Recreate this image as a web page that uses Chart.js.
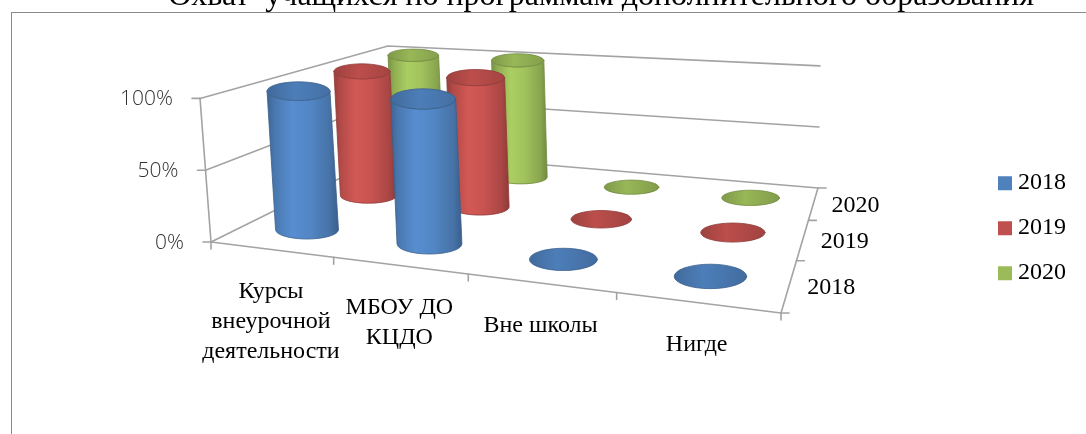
<!DOCTYPE html>
<html>
<head>
<meta charset="utf-8">
<script src="https://cdn.jsdelivr.net/npm/chart.js"></script>
<style>
    html, body { margin: 0; padding: 0; background: #fff; }
    #wrap { position: relative; width: 1086px; height: 434px; overflow: hidden; }
    #frame { position: absolute; left: 11px; top: 12px; width: 1100px; height: 440px;
             border-left: 1px solid #8a8a8a; border-top: 1px solid #8a8a8a; }
    #chart { position: absolute; left: 0; top: 0; }
</style>
</head>
<body>
<div id="wrap">
    <div id="frame"></div>
    <canvas id="chart" width="1086" height="434"></canvas>
</div>
<script>
const chartTitle = "Охват  учащихся по программам дополнительного образования";
const categories = [["Курсы", "внеурочной", "деятельности"], ["МБОУ ДО", "КЦДО"], "Вне школы", "Нигде"];
const seriesYears = ["2018", "2019", "2020"];
const values2018 = [100, 100, 0, 0];
const values2019 = [100, 100, 0, 0];
const values2020 = [100, 100, 0, 0];
const seriesColors = ["#4F81BD", "#C0504D", "#9BBB59"];

// frame of the 3d box, in canvas pixels: front-left, front-right, back-right, back-left
const floorCorners = [[211, 242], [781, 313], [818, 188], [393, 152]];
const wallHeight = 144;          // 100% at the front-left corner
const vanishPoint = [711, 6784]; // where the verticals meet
const cylinderRadius = 0.232;    // share of a cell

function makeHomography(p0, p1, p2, p3) {
    const [x0, y0] = p0, [x1, y1] = p1, [x2, y2] = p2, [x3, y3] = p3;
    const dx1 = x1 - x2, dx2 = x3 - x2, dx3 = x0 - x1 + x2 - x3;
    const dy1 = y1 - y2, dy2 = y3 - y2, dy3 = y0 - y1 + y2 - y3;
    const den = dx1 * dy2 - dx2 * dy1;
    const g = (dx3 * dy2 - dx2 * dy3) / den;
    const h = (dx1 * dy3 - dx3 * dy1) / den;
    const a = x1 - x0 + g * x1, b = x3 - x0 + h * x3;
    const d = y1 - y0 + g * y1, e = y3 - y0 + h * y3;
    return (u, v) => {
        const w = g * u + h * v + 1;
        return { x: (a * u + b * v + x0) / w, y: (d * u + e * v + y0) / w, w };
    };
}

const floor = makeHomography(...floorCorners);

function lift(p, t) {
    const dx = p.x - vanishPoint[0], dy = p.y - vanishPoint[1];
    const s = (wallHeight / p.w) * t / Math.hypot(dx, dy);
    return { x: p.x + dx * s, y: p.y + dy * s };
}

const point3d = (u, v, t) => lift(floor(u, v), t);

function shade(hex, k) {
    const n = parseInt(hex.slice(1), 16);
    const c = [n >> 16, (n >> 8) & 255, n & 255].map(v => Math.max(0, Math.min(255, Math.round(v * k))));
    return "rgb(" + c.join(",") + ")";
}

function drawCylinder(ctx, uc, vc, ru, rv, t, color) {
    // outline of the base circle on the floor, then an upright ellipse of the same size
    let minX = Infinity, maxX = -Infinity, minY = Infinity, maxY = -Infinity;
    for (let k = 0; k < 72; k++) {
        const a = (k / 72) * Math.PI * 2;
        const p = floor(uc + ru * Math.cos(a), vc + rv * Math.sin(a));
        minX = Math.min(minX, p.x); maxX = Math.max(maxX, p.x);
        minY = Math.min(minY, p.y); maxY = Math.max(maxY, p.y);
    }
    const rx = (maxX - minX) / 2, ry = (maxY - minY) / 2;
    const c = floor(uc, vc);
    const bc = { x: (minX + maxX) / 2, y: (minY + maxY) / 2 };
    const tc0 = lift(c, t);
    const tc = { x: bc.x + tc0.x - c.x, y: bc.y + tc0.y - c.y };

    const x0 = Math.min(bc.x, tc.x) - rx, x1 = Math.max(bc.x, tc.x) + rx;

    if (t > 0.002) {
        const grad = ctx.createLinearGradient(x0, 0, x1, 0);
        [[0, 0.78], [0.1, 0.92], [0.35, 1.1], [0.6, 1.04], [0.88, 0.88], [1, 0.74]]
            .forEach(([o, k]) => grad.addColorStop(o, shade(color, k)));
        ctx.beginPath();
        ctx.moveTo(tc.x - rx, tc.y);
        ctx.lineTo(bc.x - rx, bc.y);
        ctx.ellipse(bc.x, bc.y, rx, ry, 0, Math.PI, 0, true);
        ctx.lineTo(tc.x + rx, tc.y);
        ctx.ellipse(tc.x, tc.y, rx, ry, 0, 0, Math.PI, false);
        ctx.closePath();
        ctx.fillStyle = grad;
        ctx.fill();
        ctx.strokeStyle = shade(color, 0.74);
        ctx.lineWidth = 0.8;
        ctx.stroke();
    }

    const capGrad = ctx.createLinearGradient(x0, 0, x1, 0);
    [[0, 0.82], [0.4, 0.98], [1, 0.84]].forEach(([o, k]) => capGrad.addColorStop(o, shade(color, k)));
    ctx.beginPath();
    ctx.ellipse(tc.x, tc.y, rx, ry, 0, 0, Math.PI * 2);
    ctx.closePath();
    ctx.fillStyle = capGrad;
    ctx.fill();
    ctx.strokeStyle = shade(color, 0.75);
    ctx.lineWidth = 0.8;
    ctx.stroke();
}

const cylinderPlugin = {
    id: "cylinders3d",
    beforeDatasetsDraw(chart) {
        const { ctx } = chart;
        const xs = chart.scales.x, ys = chart.scales.y, zs = chart.scales.z;
        const uOf = v => (xs.getPixelForValue(v) - xs.left) / xs.width;
        const vOf = v => (zs.getPixelForValue(v) - zs.left) / zs.width;
        const tOf = v => (ys.bottom - ys.getPixelForValue(v)) / ys.height;
        const catLabels = chart.data.labels;
        const serLabels = zs.getLabels();

        ctx.save();
        ctx.lineCap = "round";
        ctx.strokeStyle = "#a3a3a3";
        ctx.lineWidth = 1.6;
        const line = (a, b) => {
            ctx.beginPath();
            ctx.moveTo(a.x, a.y);
            ctx.lineTo(b.x, b.y);
            ctx.stroke();
        };

        // gridlines on the side and back walls
        ys.ticks.forEach(tk => {
            const t = tOf(tk.value);
            const a = point3d(0, 0, t), b = point3d(0, 1, t), c = point3d(1, 1, t);
            ctx.beginPath();
            ctx.moveTo(a.x, a.y);
            ctx.lineTo(b.x, b.y);
            ctx.lineTo(c.x, c.y);
            ctx.stroke();
        });

        // value axis
        line(point3d(0, 0, tOf(ys.min)), point3d(0, 0, tOf(ys.max)));
        ys.ticks.forEach(tk => {
            const p = point3d(0, 0, tOf(tk.value));
            line(p, { x: p.x - 8, y: p.y });
        });

        // category axis
        line(floor(0, 0), floor(1, 0));
        for (let i = 0; i <= catLabels.length; i++) {
            const p = floor(uOf(i - 0.5), 0);
            line(p, { x: p.x, y: p.y + 7 });
        }

        // series (depth) axis
        line(floor(1, 0), floor(1, 1));
        for (let j = 0; j <= serLabels.length; j++) {
            const p = floor(1, vOf(j - 0.5));
            line(p, { x: p.x + 8, y: p.y });
        }

        // cylinders, back row first
        for (let j = chart.data.datasets.length - 1; j >= 0; j--) {
            if (!chart.isDatasetVisible(j)) continue;
            const ds = chart.data.datasets[j];
            const vc = vOf(j), rv = cylinderRadius * (vOf(j + 0.5) - vOf(j - 0.5));
            ds.data.forEach((val, i) => {
                const uc = uOf(i), ru = cylinderRadius * (uOf(i + 0.5) - uOf(i - 0.5));
                drawCylinder(ctx, uc, vc, ru, rv, tOf(val), ds.backgroundColor);
            });
        }

        // value labels
        ctx.fillStyle = "#333";
        ctx.font = '300 21px "Open Sans", "Liberation Sans", sans-serif';
        ctx.textAlign = "right";
        ctx.textBaseline = "middle";
        ys.ticks.forEach(tk => {
            const p = point3d(0, 0, tOf(tk.value));
            ctx.fillText(tk.label, p.x - 27, p.y + 1);
        });

        // category labels
        ctx.fillStyle = "#000";
        ctx.font = '24px "Liberation Serif", "Times New Roman", serif';
        ctx.textAlign = "center";
        ctx.textBaseline = "alphabetic";
        catLabels.forEach((lab, i) => {
            const p = floor(uOf(i), 0);
            const rows = Array.isArray(lab) ? lab : [lab];
            rows.forEach((s, n) => ctx.fillText(s, p.x, p.y + 49 + n * 30));
        });

        // series labels along the depth axis
        ctx.textAlign = "left";
        ctx.textBaseline = "middle";
        serLabels.forEach((lab, j) => {
            const p = floor(1, vOf(j));
            ctx.fillText(lab, p.x + 18, p.y + 2.5);
        });

        ctx.restore();
        return false;
    }
};

new Chart(document.getElementById("chart"), {
    type: "bar",
    data: {
        labels: categories,
        datasets: [
            { label: seriesYears[0], data: values2018, backgroundColor: seriesColors[0], borderWidth: 0 },
            { label: seriesYears[1], data: values2019, backgroundColor: seriesColors[1], borderWidth: 0 },
            { label: seriesYears[2], data: values2020, backgroundColor: seriesColors[2], borderWidth: 0 },
        ],
    },
    options: {
        responsive: false,
        animation: false,
        events: [],
        layout: { padding: { left: 126, right: 10, top: 0, bottom: 0 } },
        scales: {
            x: { display: false, offset: true },
            y: { display: false, min: 0, max: 100, ticks: { stepSize: 50, callback: v => v + "%" } },
            z: { type: "category", axis: "x", position: "bottom", labels: seriesYears, display: false, offset: true },
        },
        plugins: {
            title: {
                display: true,
                text: chartTitle,
                color: "#000",
                font: { family: '"Liberation Serif", "Times New Roman", serif', size: 32, weight: "normal" },
                padding: { top: -23, bottom: 7 },
            },
            legend: {
                position: "right",
                align: "center",
                fullSize: false,
                labels: {
                    usePointStyle: true,
                    pointStyle: "rect",
                    boxWidth: 2,
                    boxHeight: 14,
                    padding: 21,
                    color: "#000",
                    font: { family: '"Liberation Serif", "Times New Roman", serif', size: 24 },
                },
            },
            tooltip: { enabled: false },
        },
    },
    plugins: [cylinderPlugin],
});
</script>
</body>
</html>
